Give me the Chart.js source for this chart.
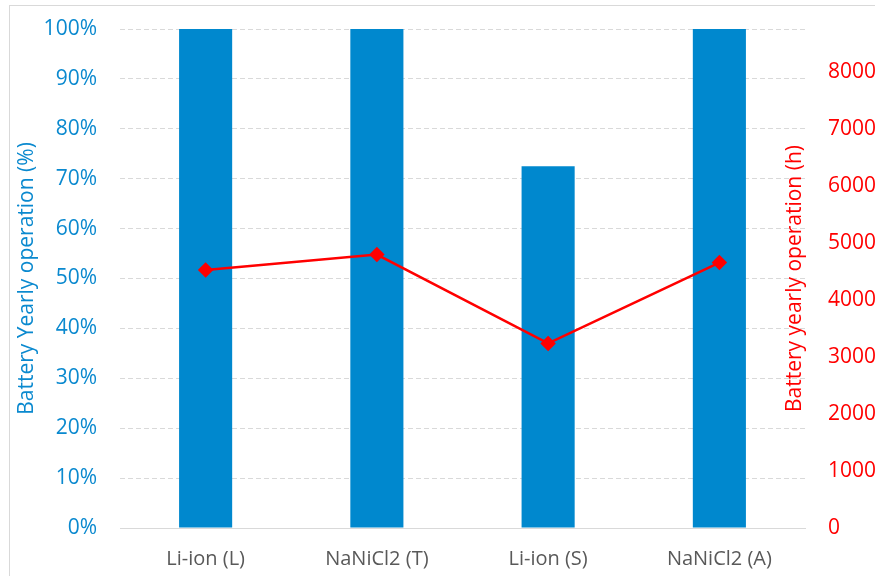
<!DOCTYPE html>
<html>
<head>
<meta charset="utf-8">
<title>Battery yearly operation</title>
<script src="https://cdn.jsdelivr.net/npm/chart.js@4/dist/chart.umd.min.js"></script>
<style>
  html, body { margin: 0; padding: 0; background: #ffffff; }
  #wrap { position: relative; width: 875px; height: 576px; overflow: hidden; }
  #frame { position: absolute; left: 9px; top: 5px; width: 900px; height: 600px;
           border-left: 1px solid #d9d9d9; border-top: 1px solid #d9d9d9; }
  #chart { position: absolute; left: 0; top: 0; }
</style>
</head>
<body>
<div id="wrap">
  <div id="frame"></div>
  <canvas id="chart" width="875" height="576"></canvas>
</div>
<script>
// Battery technologies compared
const categories = ['Li-ion (L)', 'NaNiCl2 (T)', 'Li-ion (S)', 'NaNiCl2 (A)'];
// Share of the year in operation (%)
const operationPercent = [100, 100, 72.5, 100];
// Hours in operation per year (h)
const operationHours = [4530, 4800, 3240, 4660];
// Hours in a year: top of the hour axis lines up with 100 %
const hoursPerYear = 8760;
const percentTicks = [0, 10, 20, 30, 40, 50, 60, 70, 80, 90, 100];
const hourTicks = [0, 1000, 2000, 3000, 4000, 5000, 6000, 7000, 8000];

const FONT = "'Open Sans', 'Noto Sans', sans-serif";
const BLUE = '#0088ce';
const BLUE_TEXT = '#0a89cf';
const RED = '#ff0000';
const GRID = '#d9d9d9';

// Right-hand axis title, written bottom-to-top like the left one
const rightTitle = {
  id: 'rightTitle',
  afterDraw(chart) {
    const {ctx, chartArea} = chart;
    ctx.save();
    ctx.translate(795, (chartArea.top + chartArea.bottom) / 2);
    ctx.rotate(-Math.PI / 2);
    ctx.font = "21px " + FONT;
    ctx.fillStyle = RED;
    ctx.textAlign = 'center';
    ctx.textBaseline = 'middle';
    ctx.fillText('Battery yearly operation (h)', 0, 0);
    ctx.restore();
  }
};

// Fixed axis box sizes, no extra room for overhanging labels
function fixWidth(w) {
  return s => { s.width = w; s.paddingTop = 0; s.paddingBottom = 0; };
}

new Chart(document.getElementById('chart'), {
  data: {
    labels: categories,
    datasets: [
      {
        type: 'line',
        label: 'Battery yearly operation (h)',
        data: operationHours,
        yAxisID: 'yHours',
        borderColor: RED,
        backgroundColor: RED,
        borderWidth: 2.5,
        pointStyle: 'rectRot',
        pointRadius: 6,
        pointHoverRadius: 6,
        tension: 0,
        order: 0
      },
      {
        type: 'bar',
        label: 'Battery Yearly operation (%)',
        data: operationPercent,
        yAxisID: 'yPercent',
        backgroundColor: BLUE,
        borderWidth: 0,
        categoryPercentage: 1,
        barPercentage: 0.31,
        order: 1
      }
    ]
  },
  options: {
    responsive: false,
    animation: false,
    layout: { padding: { top: 29, left: 0, right: 0, bottom: 0 } },
    plugins: { legend: { display: false }, tooltip: { enabled: false } },
    scales: {
      x: {
        grid: { display: false, drawTicks: false },
        border: { display: true, color: GRID, width: 1 },
        ticks: { color: '#595959', font: { family: FONT, size: 20 }, padding: 19, maxRotation: 0 },
        afterFit(s) { s.height = 48; s.paddingLeft = 0; s.paddingRight = 0; }
      },
      yPercent: {
        position: 'left',
        min: 0,
        max: 100,
        afterBuildTicks(s) { s.ticks = percentTicks.map(v => ({ value: v })); },
        grid: { color: GRID, lineWidth: 1, drawTicks: false },
        border: { display: false, dash: [5, 3] },
        ticks: {
          color: BLUE_TEXT,
          font: { family: FONT, size: 21 },
          padding: 23,
          callback: v => v + '%'
        },
        title: {
          display: true,
          text: 'Battery Yearly operation (%)',
          color: BLUE_TEXT,
          font: { family: FONT, size: 21 },
          padding: { top: 14, bottom: 0 }
        },
        afterFit: fixWidth(120)
      },
      yHours: {
        position: 'right',
        min: 0,
        max: hoursPerYear,
        afterBuildTicks(s) { s.ticks = hourTicks.map(v => ({ value: v })); },
        grid: { drawOnChartArea: false, drawTicks: false },
        border: { display: false },
        ticks: {
          color: RED,
          font: { family: FONT, size: 21 },
          padding: 23,
          callback: v => String(v)
        },
        afterFit: fixWidth(70)
      }
    }
  },
  plugins: [rightTitle]
});
</script>
</body>
</html>
